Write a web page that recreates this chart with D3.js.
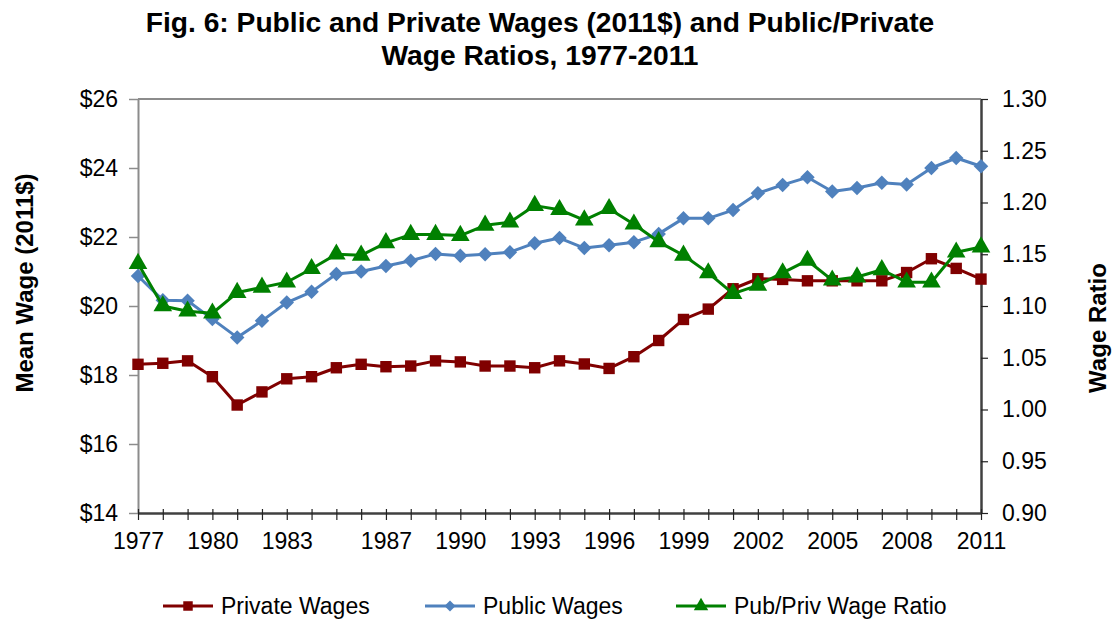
<!DOCTYPE html>
<html>
<head>
<meta charset="utf-8">
<script src="https://cdn.jsdelivr.net/npm/d3@7"></script>
<style>
  html, body { margin: 0; padding: 0; background: #fff; }
  svg { display: block; font-family: Arial, "Liberation Sans", sans-serif; }
</style>
</head>
<body>
<svg id="chart" width="1112" height="619"></svg>
<script>
const years = d3.range(1977, 2012);
const privateWages = [18.31, 18.34, 18.41, 17.95, 17.13, 17.51, 17.89, 17.95, 18.21, 18.31,
  18.24, 18.26, 18.41, 18.38, 18.26, 18.26, 18.21, 18.41, 18.32, 18.19,
  18.53, 19.00, 19.61, 19.91, 20.50, 20.79, 20.77, 20.73, 20.73, 20.73,
  20.73, 20.97, 21.37, 21.09, 20.78];
const publicWages = [20.87, 20.17, 20.15, 19.62, 19.09, 19.57, 20.10, 20.41, 20.93, 21.00,
  21.16, 21.31, 21.51, 21.46, 21.50, 21.56, 21.82, 21.97, 21.68, 21.76,
  21.85, 22.09, 22.54, 22.54, 22.78, 23.27, 23.51, 23.73, 23.32, 23.42,
  23.57, 23.52, 24.00, 24.29, 24.05];
const wageRatio = [1.141, 1.100, 1.095, 1.093, 1.113, 1.118, 1.123, 1.136, 1.150, 1.149,
  1.161, 1.169, 1.169, 1.168, 1.178, 1.181, 1.197, 1.193, 1.183, 1.194,
  1.179, 1.162, 1.149, 1.132, 1.112, 1.120, 1.132, 1.144, 1.125, 1.128,
  1.135, 1.123, 1.123, 1.152, 1.157];
const xTickYears = [1977, 1980, 1983, 1987, 1990, 1993, 1996, 1999, 2002, 2005, 2008, 2011];
const leftTicks = [14, 16, 18, 20, 22, 24, 26];
const rightTicks = [0.90, 0.95, 1.00, 1.05, 1.10, 1.15, 1.20, 1.25, 1.30];
const titleLines = ["Fig. 6: Public and Private Wages (2011$) and Public/Private", "Wage Ratios, 1977-2011"];
const seriesNames = ["Private Wages", "Public Wages", "Pub/Priv Wage Ratio"];

const colors = { priv: "#800000", pub: "#4F81BD", ratio: "#008000" };

const svg = d3.select("#chart");
const L = 138, R = 981, T = 99, B = 513;

const x = d3.scaleLinear().domain([1977, 2011]).range([L, R]);
const yL = d3.scaleLinear().domain([14, 26]).range([B, T]);
const yR = d3.scaleLinear().domain([0.90, 1.30]).range([B, T]);

// Title
svg.append("g").selectAll("text").data(titleLines).join("text")
  .attr("x", 540).attr("y", (d, i) => 32 + i * 33)
  .attr("text-anchor", "middle")
  .attr("font-size", 28.2).attr("font-weight", "bold")
  .text(d => d);

// Top border
svg.append("line").attr("x1", L).attr("x2", R).attr("y1", T).attr("y2", T)
  .attr("stroke", "#8c8c8c").attr("stroke-width", 2);

// Left axis
const gL = svg.append("g").attr("transform", `translate(${L},0)`)
  .call(d3.axisLeft(yL).tickValues(leftTicks).tickFormat(d => "$" + d).tickSizeOuter(0).tickSizeInner(9).tickPadding(11));
gL.select(".domain").attr("stroke", "#8c8c8c").attr("stroke-width", 2);
gL.selectAll(".tick line").attr("stroke", "#8c8c8c").attr("stroke-width", 1.5);
gL.selectAll(".tick text").attr("font-size", 23).attr("fill", "#000").attr("font-family", "Arial, 'Liberation Sans', sans-serif");

// Right axis
const gR = svg.append("g").attr("transform", `translate(${R},0)`)
  .call(d3.axisRight(yR).tickValues(rightTicks).tickFormat(d3.format(".2f")).tickSizeOuter(0).tickSizeInner(7).tickPadding(14));
gR.select(".domain").attr("stroke", "#404040").attr("stroke-width", 2.5);
gR.selectAll(".tick line").attr("stroke", "#222").attr("stroke-width", 1.2);
gR.selectAll(".tick text").attr("font-size", 23).attr("fill", "#000").attr("font-family", "Arial, 'Liberation Sans', sans-serif");

// Bottom axis
const gB = svg.append("g").attr("transform", `translate(0,${B})`)
  .call(d3.axisBottom(x).tickValues(years).tickFormat(d => xTickYears.includes(d) ? String(d) : "").tickSizeOuter(0).tickSizeInner(7).tickPadding(13));
gB.select(".domain").attr("stroke", "#404040").attr("stroke-width", 2.5);
gB.selectAll(".tick line").attr("stroke", "#222").attr("stroke-width", 1.2).attr("y1", -4);
gB.selectAll(".tick text").attr("font-size", 23).attr("fill", "#000").attr("font-family", "Arial, 'Liberation Sans', sans-serif");

// Axis titles
svg.append("text").attr("transform", "translate(33,283) rotate(-90)")
  .attr("text-anchor", "middle").attr("font-size", 24).attr("font-weight", "bold")
  .text("Mean Wage (2011$)");
svg.append("text").attr("transform", "translate(1106,328) rotate(-90)")
  .attr("text-anchor", "middle").attr("font-size", 24).attr("font-weight", "bold")
  .text("Wage Ratio");

const sq = d3.symbol().type(d3.symbolSquare).size(130);
const dia = d3.symbol().type(d3.symbolSquare).size(105);
const tri = d3.symbol().type(d3.symbolTriangle).size(150);

function drawSeries(vals, yScale, color, sym, rot) {
  const g = svg.append("g");
  const line = d3.line().x((d, i) => x(years[i])).y(d => yScale(d));
  g.append("path").attr("d", line(vals)).attr("fill", "none")
    .attr("stroke", color).attr("stroke-width", 3).attr("stroke-linejoin", "round");
  g.selectAll("path.m").data(vals).join("path").attr("class", "m")
    .attr("d", sym)
    .attr("transform", (d, i) => `translate(${x(years[i])},${yScale(d)}) rotate(${rot})`)
    .attr("fill", color);
}
drawSeries(privateWages, yL, colors.priv, sq, 0);
drawSeries(publicWages, yL, colors.pub, dia, 45);
drawSeries(wageRatio, yR, colors.ratio, tri, 0);

// Legend
const legendItems = [
  { name: seriesNames[0], color: colors.priv, sym: d3.symbol().type(d3.symbolSquare).size(90), rot: 0, x: 163 },
  { name: seriesNames[1], color: colors.pub, sym: d3.symbol().type(d3.symbolSquare).size(60), rot: 45, x: 425 },
  { name: seriesNames[2], color: colors.ratio, sym: d3.symbol().type(d3.symbolTriangle).size(90), rot: 0, x: 676 }
];
const lg = svg.append("g").selectAll("g").data(legendItems).join("g")
  .attr("transform", d => `translate(${d.x},606)`);
lg.append("line").attr("x1", 0).attr("x2", 50).attr("stroke", d => d.color).attr("stroke-width", 3);
lg.append("path").attr("d", d => d.sym()).attr("transform", d => `translate(25,0) rotate(${d.rot})`).attr("fill", d => d.color);
lg.append("text").attr("x", 58).attr("y", 8).attr("font-size", 23).text(d => d.name);
</script>
</body>
</html>
